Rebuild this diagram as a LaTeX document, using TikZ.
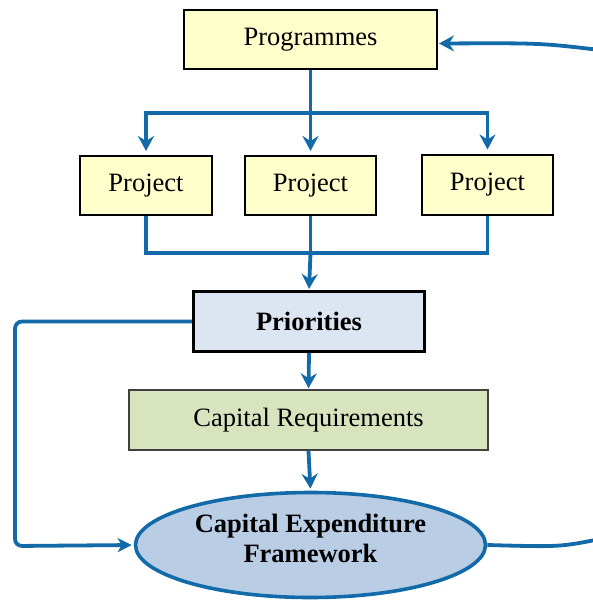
\documentclass[tikz,border=0pt]{standalone}
\usepackage{fontspec}
\setmainfont{Liberation Serif}
\usetikzlibrary{arrows.meta,shapes.geometric,positioning,calc}
\definecolor{linkblue}{RGB}{18,106,168}
\definecolor{boxyellow}{RGB}{255,255,204}
\definecolor{boxblue}{RGB}{220,230,242}
\definecolor{boxgreen}{RGB}{215,228,189}
\definecolor{ellblue}{RGB}{185,205,229}
\tikzset{every picture/.style={line width=0.75pt}}
\tikzset{
  box/.style={draw=black,line width=2pt,fill=boxyellow,font=\fontsize{26.5}{29}\selectfont,inner sep=0pt},
  link/.style={draw=linkblue,line width=3.8pt,-{Stealth[length=15pt,width=16pt,inset=5pt]}},
  plain/.style={draw=linkblue,line width=3.8pt}
}

\begin{document}
\begin{tikzpicture}[x=1pt,y=-1pt]
    \useasboundingbox (0,0) rectangle (593,600);

    % 方框
    \node[box,minimum width=253pt,minimum height=59pt] (prog) at (310.5,39.5) {Programmes};
    \node[box,minimum width=132pt,minimum height=59pt] (proj1) at (146,185.5) {Project};
    \node[box,minimum width=131pt,minimum height=59pt] (proj2) at (310.5,185.5) {Project};
    \node[box,minimum width=131pt,minimum height=60pt] (proj3) at (487.5,184.5) {Project};
    \node[box,fill=boxblue,line width=3.2pt,minimum width=231pt,minimum height=60pt,font=\fontsize{26.5}{29}\selectfont\bfseries] (prio) at (309,321.5) {Priorities};
    \node[box,fill=boxgreen,draw=black!75,line width=1.4pt,minimum width=359pt,minimum height=60pt] (capreq) at (308.5,420) {Capital Requirements};
    \node[ellipse,draw=linkblue,line width=3.6pt,fill=ellblue,minimum width=350pt,minimum height=105pt,inner sep=0pt] (cef) at (310.5,545) {};
    \node[align=center,inner sep=0pt,font=\fontsize{26.5}{30}\selectfont\bfseries] (cefText) at ($(cef.center)+(0,-7)$) {Capital Expenditure\\Framework};

    % 分支点
    \coordinate (split) at (310.5,113);
    \coordinate (join) at (310.5,253);
    \coordinate (loopL) at (15,546);
    \coordinate (loopR1) at (600,539);
    \coordinate (loopR2) at (600,50);

    % Programmes -> Projects
    \draw[plain] (prog.south) -- (split);
    \draw[link,shorten >=4pt] (split) -| (proj1.north);
    \draw[link,shorten >=4pt] (split) -- (proj2.north);
    \draw[link,shorten >=4pt] (split) -| (proj3.north);

    % Projects -> Priorities
    \draw[plain] (proj1.south) |- (join) -| (proj3.south);
    \draw[plain] (proj2.south) -- (join);
    \draw[link,shorten >=1pt] (join) -- (prio.north);

    % 纵向链
    \draw[link,shorten >=1pt] (prio.south) -- (capreq.north);
    \draw[link,shorten >=2pt] (capreq.south) -- (cef.north);

    % 左侧回路
    \draw[link,-{Stealth[length=14pt,width=14pt,inset=4pt]},rounded corners=7pt,shorten >=2pt] (prio.west) -| (loopL) -- (cef.west);

    % 右侧回路
    \draw[link,shorten >=1pt] (cef.east) .. controls (560,547) .. (loopR1)
        .. controls (680,515) and (680,70) .. (loopR2)
        .. controls (540,43) .. ($(prog.east)+(0,4)$);
\end{tikzpicture}
\end{document}
